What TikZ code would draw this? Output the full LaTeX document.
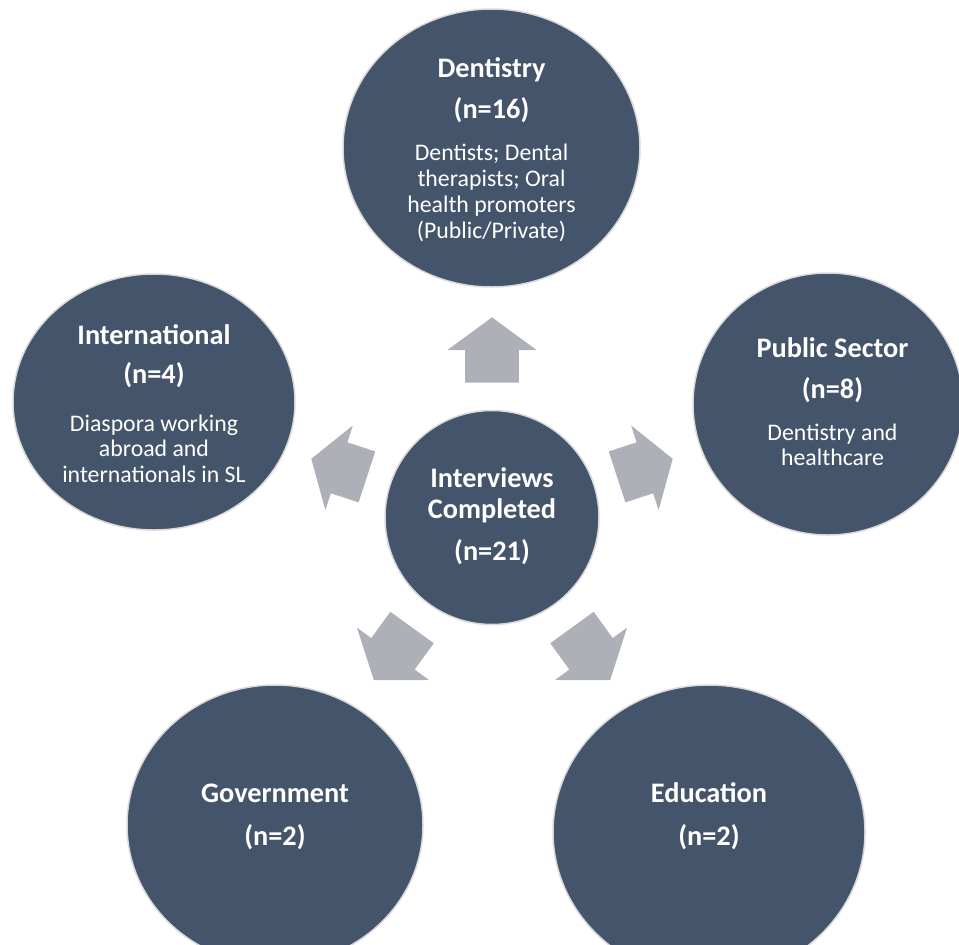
\documentclass[tikz,border=0pt]{standalone}
\usepackage{fontspec}
\setmainfont{Carlito}
\usetikzlibrary{shapes.geometric}
\definecolor{circfill}{HTML}{44546A}
\definecolor{circedge}{HTML}{D9D9D9}
\definecolor{arrowgray}{HTML}{AEB0B8}
\begin{document}
\begin{tikzpicture}[x=1pt,y=1pt,
  blob/.style={ellipse, fill=circfill, draw=circedge, line width=1.5pt, inner sep=0pt},
  ttl/.style={anchor=base, text=white, font=\fontsize{28.3}{34}\selectfont\bfseries, inner sep=0pt},
  txt/.style={anchor=base, text=white, font=\fontsize{23.8}{29}\selectfont, inner sep=0pt},
  blockarrow/.style={fill=arrowgray}]
\useasboundingbox (0,0) rectangle (959,-945);
\fill[white] (0,0) rectangle (959,-945);

% circles
\node[blob, minimum width=214, minimum height=214] (ctr) at (492,-517.5) {};
\node[blob, minimum width=297, minimum height=278] (dent) at (491.5,-148) {};
\node[blob, minimum width=282, minimum height=256] (intl) at (154,-402) {};
\node[blob, minimum width=270, minimum height=262] (pub) at (828,-404) {};
\node[blob, minimum width=296, minimum height=280] (gov) at (275,-825) {};
\node[blob, minimum width=312, minimum height=294] (edu) at (709,-832) {};

% block arrows
\foreach \ang/\b/\t in {90/134.8/200.2, 162/131.5/190, 18/131.5/190, 234/136/201, 306/136/201}{
  \begin{scope}[shift={(ctr.center)}, rotate=\ang-90]
    \fill[blockarrow] (-26.8,\b) -- (26.8,\b) -- (26.8,{(\b+\t)/2}) -- (44.5,{(\b+\t)/2})
      -- (0,\t) -- (-44.5,{(\b+\t)/2}) -- (-26.8,{(\b+\t)/2}) -- cycle;
  \end{scope}
}

% centre text
\node[ttl] (c1) at (492,-487) {Interviews};
\node[ttl] (c2) at (492,-518) {Completed};
\node[ttl] (c3) at (492,-560) {(n=21)};

% dentistry
\node[ttl] (d1) at (491.5,-77) {Dentistry};
\node[ttl] (d2) at (491.5,-118.5) {(n=16)};
\node[txt] (d3) at (491.5,-160) {Dentists; Dental};
\node[txt] (d4) at (491.5,-186) {therapists; Oral};
\node[txt] (d5) at (491.5,-212) {health promoters};
\node[txt] (d6) at (491.5,-238) {(Public/Private)};

% international
\node[ttl] (i1) at (154,-344) {International};
\node[ttl] (i2) at (154,-383) {(n=4)};
\node[txt] (i3) at (154,-431) {Diaspora working};
\node[txt] (i4) at (154,-456.7) {abroad and};
\node[txt] (i5) at (154,-482.3) {internationals in SL};

% public sector
\node[ttl] (p1) at (832.5,-357.7) {Public Sector};
\node[ttl] (p2) at (832.5,-398) {(n=8)};
\node[txt] (p3) at (832.5,-440) {Dentistry and};
\node[txt] (p4) at (832.5,-465.7) {healthcare};

% government
\node[ttl] (g1) at (275,-802.7) {Government};
\node[ttl] (g2) at (275,-845) {(n=2)};

% education
\node[ttl] (e1) at (709,-802.7) {Education};
\node[ttl] (e2) at (709,-845) {(n=2)};
\end{tikzpicture}
\end{document}
